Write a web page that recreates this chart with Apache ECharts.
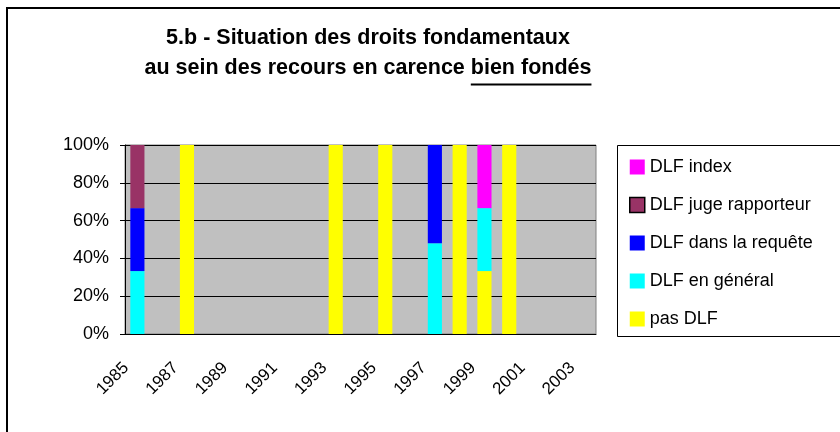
<!DOCTYPE html>
<html>
<head>
    <meta charset="utf-8">
    <title>5.b - Situation des droits fondamentaux</title>
    <script src="https://cdn.jsdelivr.net/npm/echarts@6/dist/echarts.min.js"></script>
</head>
<body style="margin:0;background:#fff;">
<div id="main" style="width: 840px;height:432px;"></div>
<script type="text/javascript">
    // années (une catégorie par an)
    var years = ['1985','1986','1987','1988','1989','1990','1991','1992','1993','1994',
                 '1995','1996','1997','1998','1999','2000','2001','2002','2003'];
    // parts en % (empilées de bas en haut)
    var pasDLF     = [0, 0, 100, 0, 0, 0, 0, 0, 100, 0, 100, 0, 0, 100, 33.3, 100, 0, 0, 0];
    var dlfGeneral = [33.3, 0, 0, 0, 0, 0, 0, 0, 0, 0, 0, 0, 48, 0, 33.3, 0, 0, 0, 0];
    var dlfRequete = [33.3, 0, 0, 0, 0, 0, 0, 0, 0, 0, 0, 0, 52, 0, 0, 0, 0, 0, 0];
    var dlfJuge    = [33.4, 0, 0, 0, 0, 0, 0, 0, 0, 0, 0, 0, 0, 0, 0, 0, 0, 0, 0];
    var dlfIndex   = [0, 0, 0, 0, 0, 0, 0, 0, 0, 0, 0, 0, 0, 0, 33.4, 0, 0, 0, 0];

    var titre1 = '5.b - Situation des droits fondamentaux';
    var titre2a = 'au sein des recours en carence ';
    var titre2b = 'bien fondés';

    var myChart = echarts.init(document.getElementById('main'));
    var font = 'Arial, "Liberation Sans", sans-serif';
    var titleFont = 'bold 21.5px ' + font;

    // position du soulignement sous "bien fondés"
    var ctx = document.createElement('canvas').getContext('2d');
    ctx.font = titleFont;
    var w2 = ctx.measureText(titre2a + titre2b).width;
    var wa = ctx.measureText(titre2a).width;
    var cx = 368;
    var ux1 = cx - w2 / 2 + wa;
    var ux2 = cx + w2 / 2;

    function bar(name, data, color) {
        return {
            name: name,
            type: 'bar',
            stack: 'total',
            barWidth: '57%',
            data: data,
            itemStyle: { color: color },
            animation: false
        };
    }

    var option = {
        backgroundColor: '#ffffff',
        textStyle: { fontFamily: font },
        graphic: [
            // cadre du graphique
            { type: 'rect', shape: { x: 7, y: 8, width: 900, height: 500 },
              style: { fill: 'none', stroke: '#000', lineWidth: 2 }, z: -1 },
            // cadre de la légende
            { type: 'rect', shape: { x: 617.5, y: 145.5, width: 300, height: 191 },
              style: { fill: '#fff', stroke: '#000', lineWidth: 1 }, z: -1 },
            { type: 'text', x: cx, y: 38,
              style: { text: titre1, fill: '#000', font: titleFont,
                       textAlign: 'center', textVerticalAlign: 'middle' } },
            { type: 'text', x: cx, y: 68,
              style: { text: titre2a + titre2b, fill: '#000', font: titleFont,
                       textAlign: 'center', textVerticalAlign: 'middle' } },
            // soulignement
            { type: 'line', shape: { x1: ux1, y1: 84.5, x2: ux2, y2: 84.5 },
              style: { stroke: '#000', lineWidth: 2 } }
        ],
        color: ['#FF00FF', '#993366', '#0000FF', '#00FFFF', '#FFFF00'],
        legend: {
            orient: 'vertical',
            left: 624,
            top: 153,
            itemWidth: 15,
            itemHeight: 15,
            itemGap: 20,
            selectedMode: false,
            icon: 'rect',
            data: [
                'DLF index',
                { name: 'DLF juge rapporteur', itemStyle: { borderColor: '#000', borderWidth: 1.5 } },
                'DLF dans la requête',
                'DLF en général',
                'pas DLF'
            ],
            textStyle: { color: '#000', fontSize: 18, fontFamily: font }
        },
        grid: {
            left: 125, right: 244, top: 145, bottom: 98,
            show: true,
            backgroundColor: '#C0C0C0',
            borderColor: '#808080',
            borderWidth: 1
        },
        xAxis: {
            type: 'category',
            data: years,
            axisLine: { lineStyle: { color: '#000' } },
            axisTick: { interval: 0, length: 5, lineStyle: { color: '#000' } },
            axisLabel: { interval: 1, rotate: 45, color: '#000', fontSize: 17,
                         margin: 20, padding: [0, 16, 0, 0] }
        },
        yAxis: {
            type: 'value',
            min: 0, max: 100, interval: 20,
            axisLine: { show: true, lineStyle: { color: '#000' } },
            axisTick: { show: true, length: 5, lineStyle: { color: '#000' } },
            axisLabel: { formatter: '{value}%', color: '#000', fontSize: 18, margin: 16 },
            splitLine: { lineStyle: { color: '#000', width: 1 } }
        },
        series: [
            bar('pas DLF', pasDLF, '#FFFF00'),
            bar('DLF en général', dlfGeneral, '#00FFFF'),
            bar('DLF dans la requête', dlfRequete, '#0000FF'),
            bar('DLF juge rapporteur', dlfJuge, '#993366'),
            bar('DLF index', dlfIndex, '#FF00FF')
        ]
    };
    myChart.setOption(option);
</script>
</body>
</html>
